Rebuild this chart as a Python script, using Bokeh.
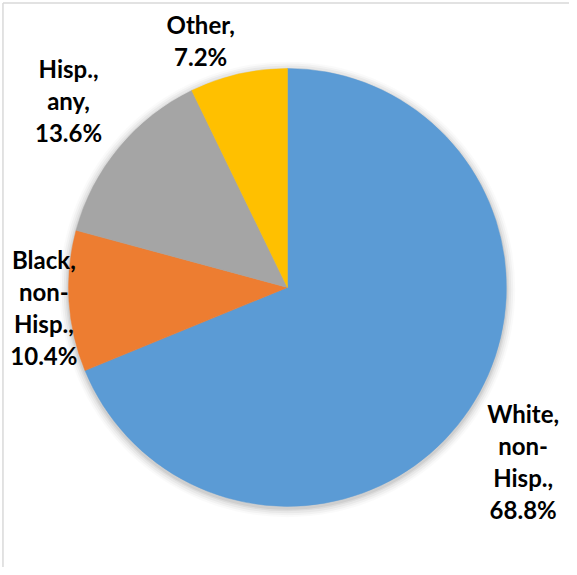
import numpy as np
from bokeh.plotting import figure
from bokeh.models import Range1d
from bokeh.core.properties import value
from bokeh.embed import file_html
from bokeh.resources import INLINE

# ---- data ----
categories = ["White, non-Hisp.", "Black, non-Hisp.", "Hisp., any", "Other"]
shares = [68.8, 10.4, 13.6, 7.2]
label_lines = [
    ["White,", "non-", "Hisp.,", "68.8%"],
    ["Black,", "non-", "Hisp.,", "10.4%"],
    ["Hisp.,", "any,", "13.6%"],
    ["Other,", "7.2%"],
]
colors = ["#5B9BD5", "#ED7D31", "#A5A5A5", "#FFC000"]

# ---- layout: data space = reference pixel space (577 x 575), y flipped ----
RW, RH = 577, 575
W, H = 569, 567
def py(y):
    return RH - y

cx, cy, R = 291, py(291), 222
label_anchor = [(530, 419), (44, 263), (69, 69), (203, 24)]
line_gap = 32.5

p = figure(width=W, height=H, output_backend="svg", toolbar_location=None,
           x_range=Range1d(0, RW), y_range=Range1d(0, RH),
           min_border=0, outline_line_color=None)
p.axis.visible = False
p.xgrid.visible = False
p.ygrid.visible = False
p.background_fill_color = "white"
p.border_fill_color = "white"

# chart-area border (top & left visible)
p.segment(x0=[2.5, 2.5], y0=[py(2.5), py(2.5)], x1=[2.5, RW], y1=[0, py(2.5)],
          line_color="#D9D9D9", line_width=1.5)

# soft shadow
for k, a in zip([9, 7, 5, 3, 1.5], [0.02, 0.03, 0.04, 0.05, 0.06]):
    p.circle(x=[cx], y=[cy - 2], radius=R + k, fill_color="black", fill_alpha=a, line_color=None)

# wedges, starting at 12 o'clock, clockwise
frac = np.array(shares) / sum(shares)
cum = np.concatenate([[0], np.cumsum(frac)])
start = np.pi / 2 - 2 * np.pi * cum[:-1]
end = np.pi / 2 - 2 * np.pi * cum[1:]
p.wedge(x=[cx] * len(shares), y=[cy] * len(shares), radius=R,
        start_angle=list(start), end_angle=list(end), direction="clock",
        fill_color=colors, line_color=colors, line_width=0.5)

# labels
xs, ys, ts = [], [], []
for (ax, ay), lines in zip(label_anchor, label_lines):
    for i, t in enumerate(lines):
        xs.append(ax)
        ys.append(py(ay + i * line_gap))
        ts.append(t)
p.text(x=xs, y=ys, text=ts, text_align="center", text_baseline="middle",
       text_font=value("Lato"), text_font_style="bold", text_font_size="24px",
       text_color="#000000")

open("out.html", "w").write(file_html(p, INLINE))
